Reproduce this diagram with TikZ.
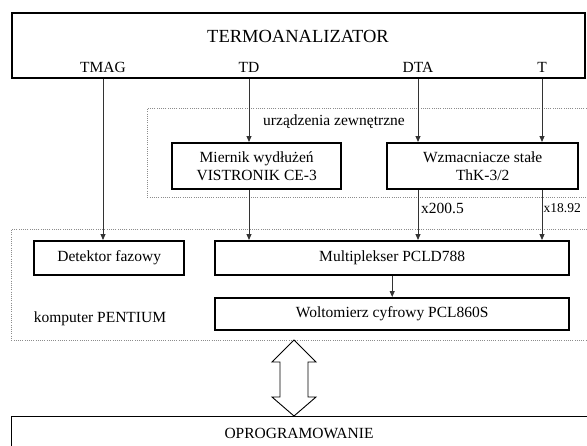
\documentclass[tikz,border=0pt]{standalone}
\usepackage{fontspec}
\setmainfont{Liberation Serif}
\usetikzlibrary{arrows.meta,positioning,calc}

\begin{document}
\begin{tikzpicture}[
  x=1pt,y=-1pt,
  font=\fontsize{15.5}{18}\selectfont,
  >={Triangle[length=6pt,width=5pt]},
  blk/.style={draw, anchor=north west, align=center, inner sep=0pt, line width=2.4pt},
  grp/.style={draw=black!45, anchor=north west, inner sep=0pt, line width=0.9pt, dash pattern=on 1pt off 1.2pt},
  lab/.style={inner sep=1pt},
  flow/.style={->, line width=0.9pt, draw=black!80},
]
\useasboundingbox (0,0) rectangle (587,445);

%% ---------- TERMOANALIZATOR ----------
\node[blk, minimum width=573pt, minimum height=65pt] (termo) at (11,12) {};
\node[font=\fontsize{18.5}{22}\selectfont] (title) at (298,36) {TERMOANALIZATOR};
\node[lab] (lbtmag) at (103,67) {TMAG};
\node[lab] (lbtd)   at (249,67) {TD};
\node[lab] (lbdta)  at (418,67) {DTA};
\node[lab] (lbt)    at (542,67) {T};

%% ---------- URZADZENIA ZEWNETRZNE ----------
\node[grp, minimum width=460pt, minimum height=89pt] (ext) at (147,108) {};
\node[lab] (extlab) at (334,122) {urządzenia zewnętrzne};
\node[blk, minimum width=169pt, minimum height=46pt] (mier) at (171,142)
  {Miernik wydłużeń\\VISTRONIK CE-3};
\node[blk, minimum width=191pt, minimum height=46pt] (wzm) at (386,142)
  {Wzmacniacze stałe\\ThK-3/2};

%% ---------- KOMPUTER ----------
\node[grp, minimum width=580pt, minimum height=111pt] (pc) at (11,229) {};
\node[lab] (pclab) at (100,319) {komputer PENTIUM};
\node[blk, minimum width=150pt, minimum height=34pt] (det) at (33,240) {Detektor fazowy};
\node[blk, minimum width=354pt, minimum height=34pt] (mux) at (214,240) {Multiplekser PCLD788};
\node[blk, minimum width=354pt, minimum height=32pt] (wolt) at (214,297) {Woltomierz cyfrowy PCL860S};

%% ---------- OPROGRAMOWANIE ----------
\node[draw, anchor=north west, inner sep=0pt, line width=1pt,
      minimum width=580pt, minimum height=34pt] (prog) at (11,416) {};
\node[lab] (proglab) at (299,433) {OPROGRAMOWANIE};

%% ---------- SIGNALS ----------
\draw[flow] (lbtmag |- termo.south) -- (lbtmag |- det.north);
\draw[flow] (lbtd |- termo.south) -- (lbtd |- mier.north);
\draw[flow] (lbdta |- termo.south) -- (lbdta |- wzm.north);
\draw[flow] (lbt |- termo.south) -- (lbt |- wzm.north);
\draw[flow] (lbtd |- mier.south) -- (lbtd |- mux.north);
\draw[flow] (lbdta |- wzm.south) -- (lbdta |- mux.north);
\draw[flow] (lbt |- wzm.south) -- (lbt |- mux.north);
\node[lab, anchor=west] (gdta) at (420,208) {x200.5};
\node[lab, anchor=west, inner sep=0pt, font=\fontsize{13.5}{16}\selectfont] (gt) at (543.5,208) {x18.92};
\draw[flow] (mux.south) -- (wolt.north);

%% ---------- BUS ----------
\coordinate (bt) at (294,340);
\coordinate (bb) at (294,416);
\draw[line width=0.9pt, fill=white] (bt) -- ++(22,22) -- ++(-8,0) -- ++(0,35) -- ++(8,0)
  -- (bb) -- ++(-22,-19) -- ++(8,0) -- ++(0,-35) -- ++(-8,0) -- cycle;
\end{tikzpicture}
\end{document}
